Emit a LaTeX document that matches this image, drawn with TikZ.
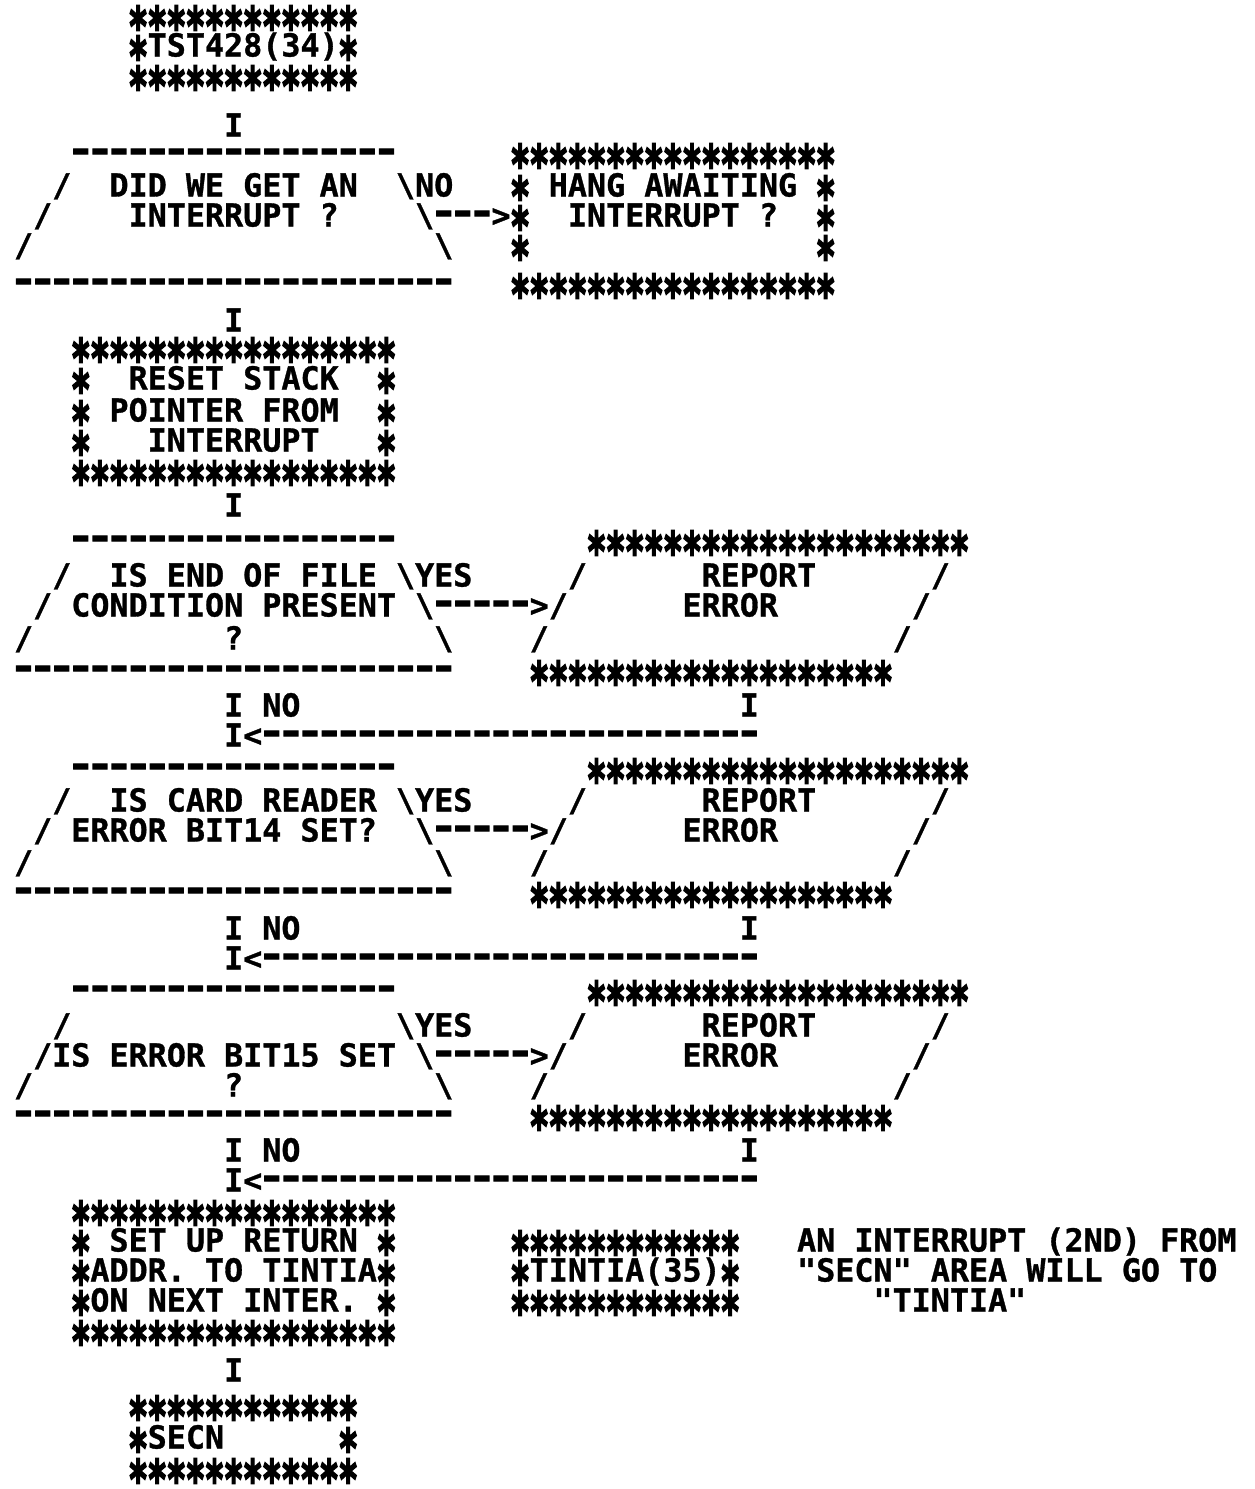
\documentclass[tikz,border=0pt]{standalone}
\usepackage{fontspec}
\usepackage{graphicx}
\newfontfamily\monob{DejaVu Sans Mono Bold}[FakeBold=1]
\newfontfamily\starf{DejaVu Sans Mono Bold}[FakeBold=3.5]
\newcommand\ST{\makebox[19.1pt][c]{\raisebox{-19pt}[0pt][0pt]{\starf\scalebox{1.05}[1.7]{*}}}}
\newcommand\DS{\makebox[19.1pt][c]{\raisebox{2.5pt}[0pt][0pt]{\starf\scalebox{1.4}[1.15]{-}}}}
\ExplSyntaxOn
\cs_new:Npn \Rep #1#2 { \prg_replicate:nn {#1} {#2} }
\ExplSyntaxOff
\newcommand\BS{\textbackslash}
\tikzset{tx/.style={anchor=base west, inner sep=0pt, outer sep=0pt, text height=22pt, text depth=2pt, font=\monob\fontsize{31.73}{32}\selectfont}}
\newcommand\Tx[4]{\node[tx] (#1) at ({14pt+#2*19.1pt},{-#3pt-11.5pt}) {#4};}
\begin{document}
\begin{tikzpicture}
\fill[white] (0,0) rectangle (1254pt,-1489pt);
\useasboundingbox (0,0) rectangle (1254pt,-1489pt);
% start box
\Tx{r0}{6}{15}{\Rep{12}{\ST}}
\Tx{r1}{6}{45}{\ST TST428(34)\ST}
\Tx{r2}{6}{75}{\Rep{12}{\ST}}
\Tx{r3}{11}{125}{I}
% decision 1
\Tx{r4a}{3}{153}{\Rep{17}{\DS}}
\Tx{r4b}{26}{153}{\Rep{17}{\ST}}
\Tx{r5a}{2}{185}{/}
\Tx{r5b}{5}{185}{DID WE GET AN}
\Tx{r5c}{20}{185}{\BS NO}
\Tx{r5d}{26}{185}{\ST}
\Tx{r5e}{28}{185}{HANG AWAITING}
\Tx{r5f}{42}{185}{\ST}
\Tx{r6a}{1}{215}{/}
\Tx{r6b}{6}{215}{INTERRUPT ?}
\Tx{r6c}{21}{215}{\BS\DS\DS\DS>}
\Tx{r6d}{26}{215}{\ST}
\Tx{r6e}{29}{215}{INTERRUPT ?}
\Tx{r6f}{42}{215}{\ST}
\Tx{r7a}{0}{245}{/}
\Tx{r7b}{22}{245}{\BS}
\Tx{r7c}{26}{245}{\ST}
\Tx{r7d}{42}{245}{\ST}
\Tx{r8a}{0}{283}{\Rep{23}{\DS}}
\Tx{r8b}{26}{283}{\Rep{17}{\ST}}
\Tx{r9}{11}{320}{I}
% reset box
\Tx{r10}{3}{347}{\Rep{17}{\ST}}
\Tx{r11a}{3}{378}{\ST}
\Tx{r11b}{6}{378}{RESET STACK}
\Tx{r11c}{19}{378}{\ST}
\Tx{r12a}{3}{410}{\ST}
\Tx{r12b}{5}{410}{POINTER FROM}
\Tx{r12c}{19}{410}{\ST}
\Tx{r13a}{3}{440}{\ST}
\Tx{r13b}{7}{440}{INTERRUPT}
\Tx{r13c}{19}{440}{\ST}
\Tx{r14}{3}{470}{\Rep{17}{\ST}}
\Tx{r15}{11}{505}{I}
% decision 2
\Tx{r16a}{3}{540}{\Rep{17}{\DS}}
\Tx{r16b}{30}{540}{\Rep{20}{\ST}}
\Tx{r17a}{2}{575}{/}
\Tx{r17b}{5}{575}{IS END OF FILE}
\Tx{r17c}{20}{575}{\BS YES}
\Tx{r17d}{29}{575}{/}
\Tx{r17e}{36}{575}{REPORT}
\Tx{r17f}{48}{575}{/}
\Tx{r18a}{1}{605}{/}
\Tx{r18b}{3}{605}{CONDITION PRESENT}
\Tx{r18c}{21}{605}{\BS\Rep{5}{\DS}>/}
\Tx{r18d}{35}{605}{ERROR}
\Tx{r18e}{47}{605}{/}
\Tx{r19a}{0}{638}{/}
\Tx{r19b}{11}{638}{?}
\Tx{r19c}{22}{638}{\BS}
\Tx{r19d}{27}{638}{/}
\Tx{r19e}{46}{638}{/}
\Tx{r20a}{0}{670}{\Rep{23}{\DS}}
\Tx{r20b}{27}{670}{\Rep{19}{\ST}}
\Tx{r21a}{11}{705}{I NO}
\Tx{r21b}{38}{705}{I}
\Tx{r22}{11}{735}{I<\Rep{26}{\DS}}
% decision 3
\Tx{r23a}{3}{768}{\Rep{17}{\DS}}
\Tx{r23b}{30}{768}{\Rep{20}{\ST}}
\Tx{r24a}{2}{800}{/}
\Tx{r24b}{5}{800}{IS CARD READER}
\Tx{r24c}{20}{800}{\BS YES}
\Tx{r24d}{29}{800}{/}
\Tx{r24e}{36}{800}{REPORT}
\Tx{r24f}{48}{800}{/}
\Tx{r25a}{1}{830}{/}
\Tx{r25b}{3}{830}{ERROR BIT14 SET?}
\Tx{r25c}{21}{830}{\BS\Rep{5}{\DS}>/}
\Tx{r25d}{35}{830}{ERROR}
\Tx{r25e}{47}{830}{/}
\Tx{r26a}{0}{862}{/}
\Tx{r26c}{22}{862}{\BS}
\Tx{r26d}{27}{862}{/}
\Tx{r26e}{46}{862}{/}
\Tx{r27a}{0}{892}{\Rep{23}{\DS}}
\Tx{r27b}{27}{892}{\Rep{19}{\ST}}
\Tx{r28a}{11}{928}{I NO}
\Tx{r28b}{38}{928}{I}
\Tx{r29}{11}{958}{I<\Rep{26}{\DS}}
% decision 4
\Tx{r30a}{3}{990}{\Rep{17}{\DS}}
\Tx{r30b}{30}{990}{\Rep{20}{\ST}}
\Tx{r31a}{2}{1025}{/}
\Tx{r31c}{20}{1025}{\BS YES}
\Tx{r31d}{29}{1025}{/}
\Tx{r31e}{36}{1025}{REPORT}
\Tx{r31f}{48}{1025}{/}
\Tx{r32b}{1}{1055}{/IS ERROR BIT15 SET}
\Tx{r32c}{21}{1055}{\BS\Rep{5}{\DS}>/}
\Tx{r32d}{35}{1055}{ERROR}
\Tx{r32e}{47}{1055}{/}
\Tx{r33a}{0}{1085}{/}
\Tx{r33b}{11}{1085}{?}
\Tx{r33c}{22}{1085}{\BS}
\Tx{r33d}{27}{1085}{/}
\Tx{r33e}{46}{1085}{/}
\Tx{r34a}{0}{1115}{\Rep{23}{\DS}}
\Tx{r34b}{27}{1115}{\Rep{19}{\ST}}
\Tx{r35a}{11}{1150}{I NO}
\Tx{r35b}{38}{1150}{I}
\Tx{r36}{11}{1180}{I<\Rep{26}{\DS}}
% set up box
\Tx{r37}{3}{1210}{\Rep{17}{\ST}}
\Tx{r38a}{3}{1240}{\ST}
\Tx{r38b}{5}{1240}{SET UP RETURN}
\Tx{r38c}{19}{1240}{\ST}
\Tx{r38d}{26}{1240}{\Rep{12}{\ST}}
\Tx{r38e}{41}{1240}{AN INTERRUPT (2ND) FROM}
\Tx{r39a}{3}{1270}{\ST}
\Tx{r39b}{4}{1270}{ADDR. TO TINTIA}
\Tx{r39c}{19}{1270}{\ST}
\Tx{r39d}{26}{1270}{\ST TINTIA(35)\ST}
\Tx{r39e}{41}{1270}{"SECN" AREA WILL GO TO}
\Tx{r40a}{3}{1300}{\ST}
\Tx{r40b}{4}{1300}{ON NEXT INTER.}
\Tx{r40c}{19}{1300}{\ST}
\Tx{r40d}{26}{1300}{\Rep{12}{\ST}}
\Tx{r40e}{45}{1300}{"TINTIA"}
\Tx{r41}{3}{1330}{\Rep{17}{\ST}}
\Tx{r42}{11}{1370}{I}
% end box
\Tx{r43}{6}{1405}{\Rep{12}{\ST}}
\Tx{r44a}{6}{1437}{\ST}
\Tx{r44b}{7}{1437}{SECN}
\Tx{r44c}{17}{1437}{\ST}
\Tx{r45}{6}{1468}{\Rep{12}{\ST}}
\end{tikzpicture}
\end{document}
